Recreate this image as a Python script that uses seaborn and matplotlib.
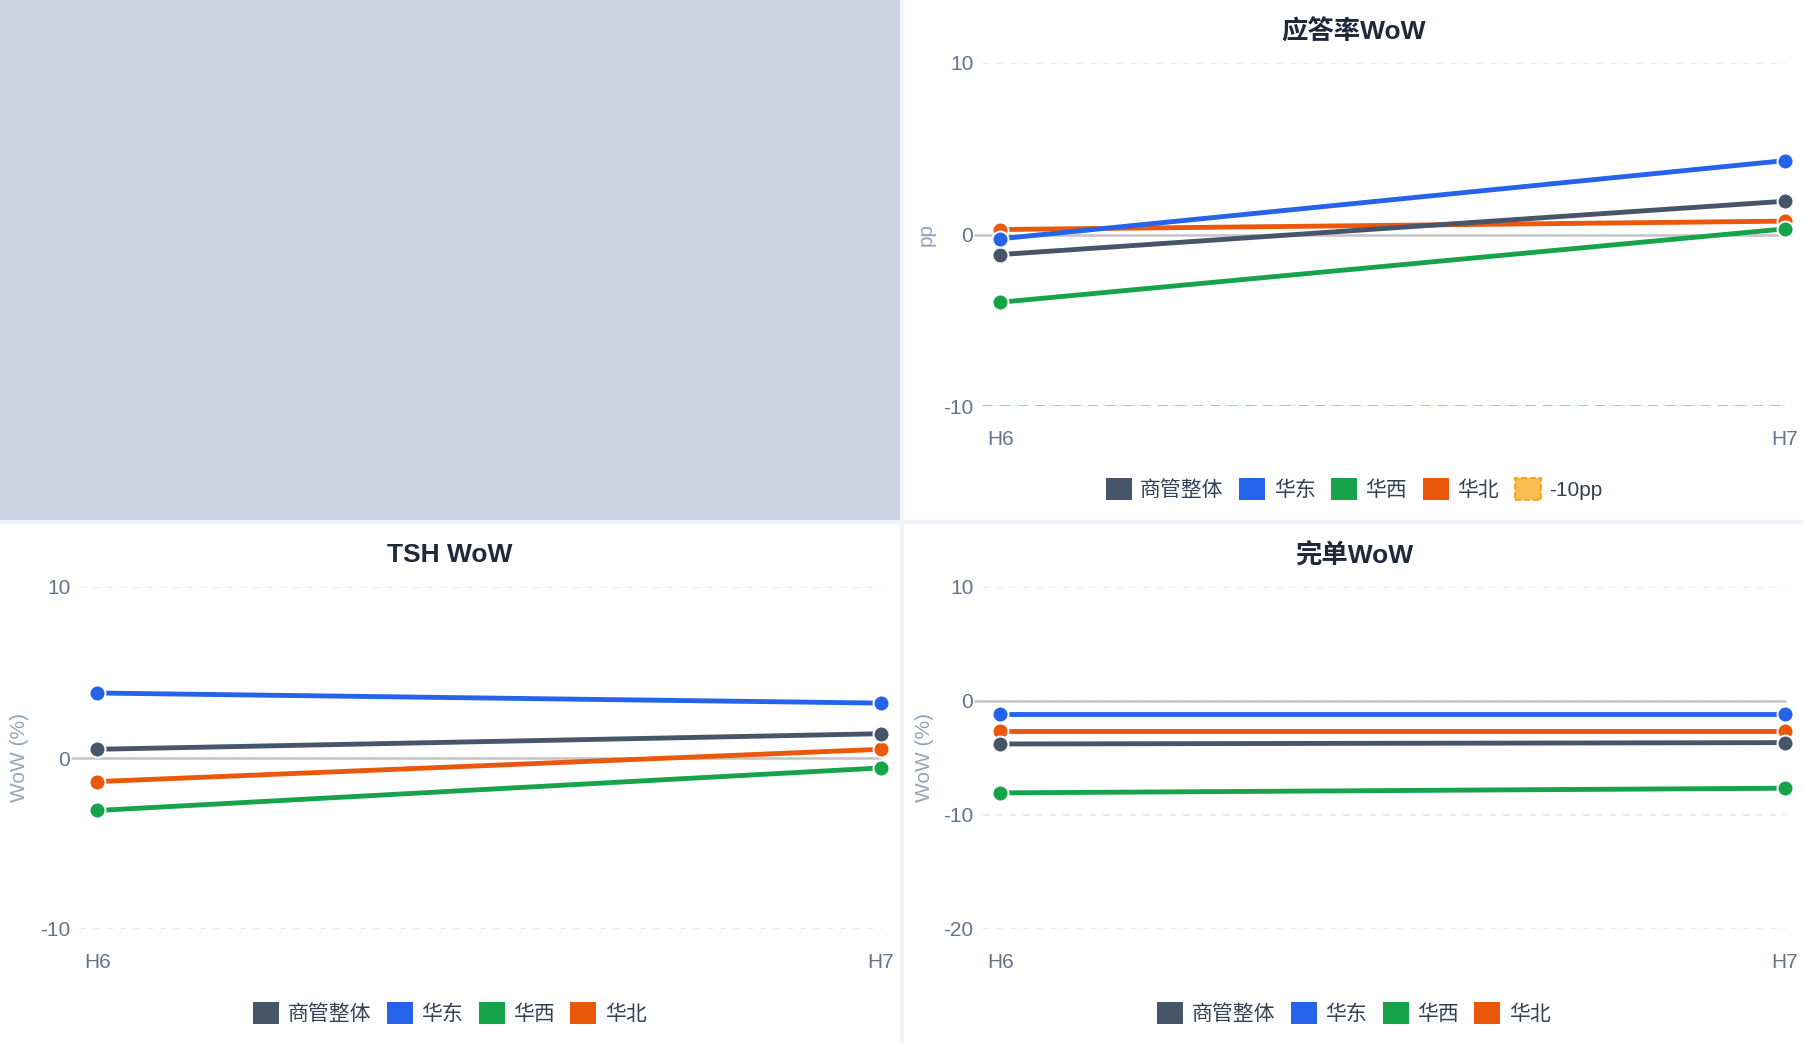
import numpy as np
import pandas as pd
import matplotlib as mpl
mpl.use("Agg")
import matplotlib.pyplot as plt
from matplotlib.patches import Rectangle, Patch
import seaborn as sns

sns.set_theme(style="white")
plt.rcParams['font.family'] = ['Liberation Sans', 'Noto Sans CJK SC', 'DejaVu Sans']
plt.rcParams['axes.unicode_minus'] = False

# 数据
periods = ['H6', 'H7']
regions = ['商管整体', '华东', '华西', '华北']
colors = ['#475569', '#2563eb', '#16a34a', '#ea580c']

answer_wow = {'商管整体': [-1.17, 1.94], '华东': [-0.25, 4.31],
              '华西': [-3.95, 0.33], '华北': [0.29, 0.78]}
tsh_wow = {'商管整体': [0.51, 1.42], '华东': [3.80, 3.21],
           '华西': [-3.07, -0.58], '华北': [-1.38, 0.51]}
done_wow = {'商管整体': [-3.77, -3.65], '华东': [-1.14, -1.14],
            '华西': [-8.06, -7.65], '华北': [-2.63, -2.63]}
threshold = -10
threshold_label = '-10pp'

W, H = 1804, 1044
fig = plt.figure(figsize=(W / 100, H / 100), dpi=100, facecolor='#f1f5f9')
palette = dict(zip(regions, colors))
draw_order = ['华北', '商管整体', '华东', '华西']

def px_axes(x0, y0, x1, y1):
    return fig.add_axes([x0 / W, 1 - y1 / H, (x1 - x0) / W, (y1 - y0) / H])

def panel(x0, y0, x1, y1, fc):
    fig.add_artist(Rectangle((x0 / W, 1 - y1 / H), (x1 - x0) / W, (y1 - y0) / H,
                             transform=fig.transFigure, facecolor=fc, edgecolor='none', zorder=0))

def to_long(d):
    rows = []
    for r in regions:
        for p, v in zip(periods, d[r]):
            rows.append({'period': p, 'region': r, 'value': v})
    return pd.DataFrame(rows)

def draw(ax, d, yticks):
    df = to_long(d)
    sns.lineplot(data=df, x='period', y='value', hue='region', hue_order=draw_order,
                 palette=palette, marker='o', markersize=11.5, markeredgecolor='white',
                 markeredgewidth=1.4, linewidth=3.5, legend=False, ax=ax, clip_on=False)
    ax.set_xlim(-0.022, 1.0)
    ax.set_ylim(yticks[0], yticks[-1])
    ax.set_yticks(yticks)
    ax.set_yticklabels([str(t) for t in yticks])
    ax.grid(axis='y', linestyle=(0, (4, 4)), color='#e2e8f0', linewidth=1.2)
    ax.axhline(0, xmin=-0.01, xmax=1, color='#c4c4c4', linewidth=1.8, clip_on=False, zorder=1.5)
    for s in ax.spines.values():
        s.set_visible(False)
    ax.set_facecolor('none')
    ax.tick_params(axis='y', length=0, pad=7, labelsize=15, labelcolor='#64748b')
    ax.tick_params(axis='x', length=0, pad=17, labelsize=15, labelcolor='#64748b')
    ax.set_xlabel('')
    ax.set_ylabel('')

def legend(cx, cy, extra=None):
    handles = [Patch(facecolor=c, edgecolor='none', label=r) for r, c in zip(regions, colors)]
    if extra is not None:
        handles.append(extra)
    fig.legend(handles=handles, loc='center', bbox_to_anchor=(cx / W, 1 - cy / H),
               ncol=len(handles), frameon=False, fontsize=15, handlelength=1.25,
               handleheight=1.25, handletextpad=0.4, columnspacing=0.75,
               labelcolor='#334155')

# 面板背景
panel(0, 0, 900, 520, '#cbd5e1')
panel(904, 0, 1804, 520, 'white')
panel(0, 524, 900, 1044, 'white')
panel(904, 524, 1804, 1044, 'white')

# 应答率WoW
ax1 = px_axes(983, 63, 1785, 406)
draw(ax1, answer_wow, [-10, 0, 10])
ax1.axhline(threshold, color='#f6b444', linestyle=(0, (5, 4)), linewidth=1.4, zorder=1.6)
fig.text(1354 / W, 1 - 32 / H, '应答率WoW', ha='center', va='center', fontsize=19,
         fontweight='bold', color='#1e293b')
fig.text(926 / W, 1 - 235 / H, 'pp', ha='center', va='center', rotation=90,
         fontsize=15, color='#94a3b8')
legend(1354, 489, Patch(facecolor='#f9bb52', edgecolor='#f59e0b', linestyle='--',
                        linewidth=1.2, label=threshold_label))

# TSH WoW
ax2 = px_axes(80, 587, 881, 929)
draw(ax2, tsh_wow, [-10, 0, 10])
fig.text(450 / W, 1 - 555 / H, 'TSH WoW', ha='center', va='center', fontsize=19,
         fontweight='bold', color='#1e293b')
fig.text(20 / W, 1 - 758 / H, 'WoW (%)', ha='center', va='center', rotation=90,
         fontsize=15, color='#94a3b8')
legend(450, 1013)

# 完单WoW
ax3 = px_axes(983, 587, 1785, 929)
draw(ax3, done_wow, [-20, -10, 0, 10])
fig.text(1354 / W, 1 - 555 / H, '完单WoW', ha='center', va='center', fontsize=19,
         fontweight='bold', color='#1e293b')
fig.text(924 / W, 1 - 758 / H, 'WoW (%)', ha='center', va='center', rotation=90,
         fontsize=15, color='#94a3b8')
legend(1354, 1013)

fig.savefig('out.png', dpi=100, facecolor=fig.get_facecolor())
